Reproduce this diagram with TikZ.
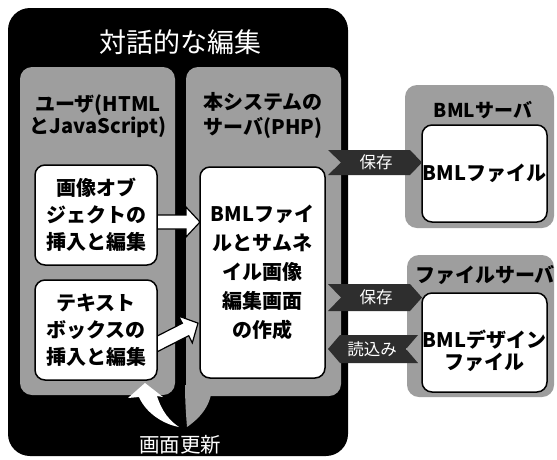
\documentclass[tikz,border=0pt]{standalone}
\usepackage{fontspec}
\newfontfamily\jp{Noto Sans CJK JP}
\usetikzlibrary{calc}
\definecolor{gry}{gray}{0.62}
\definecolor{ban}{gray}{0.18}
\pgfdeclarelayer{back}
\pgfdeclarelayer{mid}
\pgfsetlayers{back,mid,main}
\begin{document}
\begin{tikzpicture}[x=1pt,y=-1pt,
  box/.style={inner sep=0pt, outer sep=0pt},
  blackbox/.style={box, fill=black, rounded corners=22pt},
  panel/.style={box, fill=gry, rounded corners=12pt},
  wbox/.style={box, fill=white, draw=black, line width=1.5pt, rounded corners=10pt},
  lbl/.style={inner sep=0pt, align=center, font=\jp\bfseries\fontsize{20pt}{27pt}\selectfont},
  wtitle/.style={inner sep=0pt, text=white, font=\jp\fontsize{27pt}{27pt}\selectfont},
  btext/.style={inner sep=0pt, text=white, font=\jp\fontsize{16.5pt}{16.5pt}\selectfont},
  banner/.style={fill=ban},
  warrow/.style={fill=white, draw=black, line width=1.2pt, line join=miter},
]
\useasboundingbox (0,0) rectangle (557,459);

\begin{pgfonlayer}{back}
  \fill[white] (0,0) rectangle (557,459);
  \node[blackbox, minimum width=340pt, minimum height=448pt] (outer) at (178,232) {};
  \node[panel, minimum width=155pt, minimum height=328pt] (lpanel) at (97.5,231) {};
  \node[panel, minimum width=155pt, minimum height=329pt] (rpanel) at (263.5,231.5) {};
  \node[panel, minimum width=149pt, minimum height=143pt] (bmlpanel) at (479.5,156.5) {};
  \node[panel, minimum width=147pt, minimum height=142pt] (fpanel) at (480.5,326) {};
  % gray tail of the update arrow
  \fill[gry] (185,385) -- (212,385) .. controls (212,405) and (200,418) .. (187,427)
       .. controls (186,415) and (185,400) .. (185,385) -- cycle;
\end{pgfonlayer}

% white boxes
\node[wbox, minimum width=122pt, minimum height=100pt] (b1) at (96,215) {};
\node[wbox, minimum width=122pt, minimum height=100pt] (b2) at (96,330) {};
\node[wbox, minimum width=125pt, minimum height=211pt] (rb) at (262.5,272.5) {};
\node[wbox, minimum width=125pt, minimum height=97pt] (bmlbox) at (484.5,173.5) {};
\node[wbox, minimum width=125pt, minimum height=99pt] (fbox) at (484.5,342.5) {};

% texts
\node[wtitle] (title) at (180.5,42) {対話的な編集};
\node[lbl, font=\jp\bfseries\fontsize{20pt}{22pt}\selectfont] (lhead) at (98,116) {ユーザ(HTML\\とJavaScript)};
\node[lbl, font=\jp\bfseries\fontsize{20pt}{25pt}\selectfont] (rhead) at (263,115.5) {本システムの\\サーバ(PHP)};
\node[lbl] (t1) at (b1) {画像オブ\\ジェクトの\\挿入と編集};
\node[lbl] (t2) at (b2) {テキスト\\ボックスの\\挿入と編集};
\node[lbl, font=\jp\bfseries\fontsize{20pt}{29pt}\selectfont] (t3) at (rb) {BMLファイ\\ルとサムネ\\イル画像\\編集画面\\の作成};
\node[lbl, font=\jp\bfseries\fontsize{19pt}{20pt}\selectfont] (bmlhead) at (483,110) {BMLサーバ};
\node[lbl] (t4) at (bmlbox) {BMLファイル};
\node[lbl, font=\jp\bfseries\fontsize{20pt}{20pt}\selectfont] (fhead) at (485,275) {ファイルサーバ};
\node[lbl, font=\jp\bfseries\fontsize{20pt}{22pt}\selectfont] (t5) at (484.5,351) {BMLデザイン\\ファイル};
\node[wtitle, font=\jp\fontsize{20.5pt}{20.5pt}\selectfont] (upd) at (180,445) {画面更新};

% arrows inside (mid layer: above panels, below white boxes)
\begin{pgfonlayer}{mid}
  \coordinate (a1s) at ($(b1.east)+(-6,7)$);
  \coordinate (a1e) at (rb.west |- a1s);
  \draw[warrow] ($(a1s)+(0,-7)$) -- ($(a1e)+(-14,-7)$) -- ($(a1e)+(-14,-15)$) -- (a1e)
     -- ($(a1e)+(-14,15)$) -- ($(a1e)+(-14,7)$) -- ($(a1s)+(0,7)$) -- cycle;
  \coordinate (a2s) at ($(b2.east)+(0,14)$);
  \begin{scope}[shift={(a2s)}, rotate=27]
    \draw[warrow] (-4,-7) -- (32,-7) -- (32,-15) -- (46,0) -- (32,15) -- (32,7) -- (-4,7) -- cycle;
  \end{scope}
  % update arrow, white part
  \fill[white] (145,383) -- (163,397) -- (157,396) .. controls (162,412) and (170,421) .. (179,427)
     .. controls (163,424) and (146,413) .. (139,397) -- (128,398) -- cycle;
\end{pgfonlayer}

% banners
\coordinate (s1) at (bmlbox.west |- 0,162.5);
\fill[banner] (328,150) -- ($(s1)+(-12,-12.5)$) -- (s1) -- ($(s1)+(-12,12.5)$) -- (328,175) -- (341,162.5) -- cycle;
\node[btext] (s1t) at (376,162.5) {保存};

\coordinate (s2) at (fbox.west |- 0,297.5);
\fill[banner] (328,284) -- ($(s2)+(-12,-13.5)$) -- (s2) -- ($(s2)+(-12,13.5)$) -- (328,311) -- (341,297.5) -- cycle;
\node[btext] (s2t) at (376,297.5) {保存};

\coordinate (r1) at (328,349);
\fill[banner] (r1) -- (340,335) -- (418,335) -- (406,349) -- (418,363) -- (340,363) -- cycle;
\node[btext] (r1t) at (372,349) {読込み};
\end{tikzpicture}
\end{document}
